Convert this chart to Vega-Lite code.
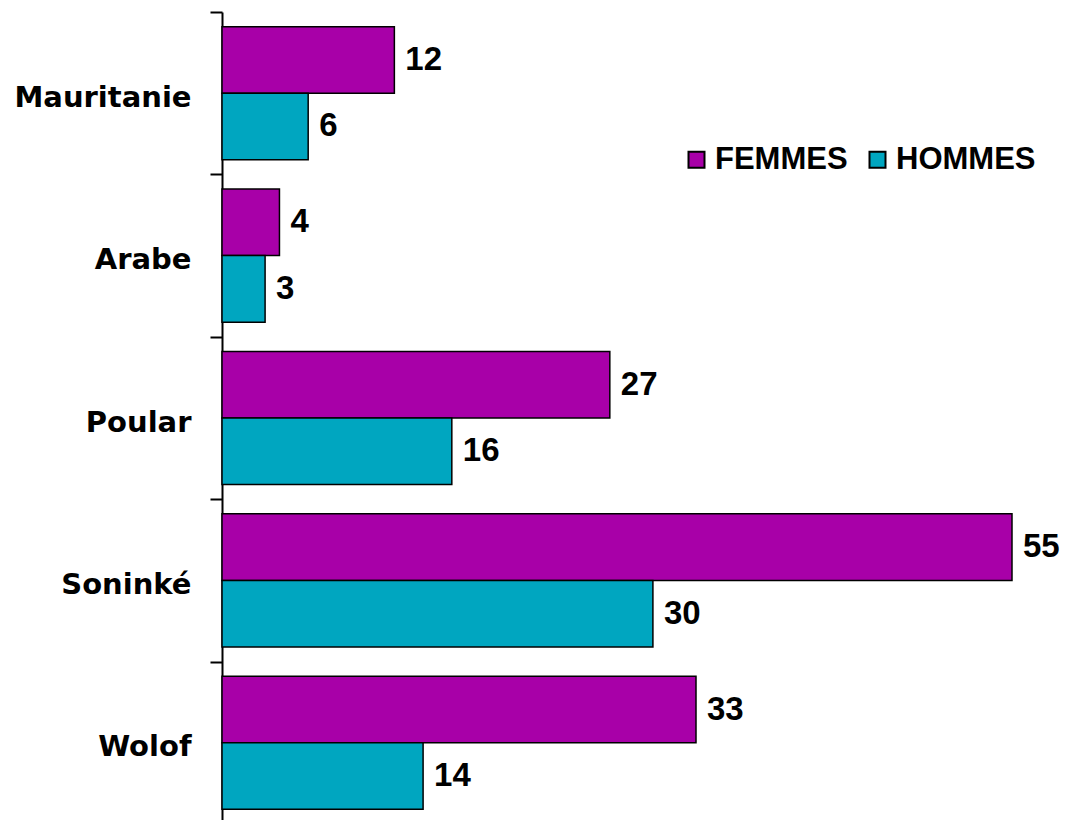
{
  "$schema": "https://vega.github.io/schema/vega-lite/v6.json",
  "autosize": {"type": "none"},
  "padding": {"left": 222, "top": 12, "right": 61, "bottom": 0},
  "width": 790,
  "height": 812,
  "background": "white",
  "config": {"view": {"stroke": null}},
  "data": {
    "values": [
      {"groupe": "Mauritanie", "sexe": "FEMMES", "valeur": 12},
      {"groupe": "Mauritanie", "sexe": "HOMMES", "valeur": 6},
      {"groupe": "Arabe", "sexe": "FEMMES", "valeur": 4},
      {"groupe": "Arabe", "sexe": "HOMMES", "valeur": 3},
      {"groupe": "Poular", "sexe": "FEMMES", "valeur": 27},
      {"groupe": "Poular", "sexe": "HOMMES", "valeur": 16},
      {"groupe": "Soninké", "sexe": "FEMMES", "valeur": 55},
      {"groupe": "Soninké", "sexe": "HOMMES", "valeur": 30},
      {"groupe": "Wolof", "sexe": "FEMMES", "valeur": 33},
      {"groupe": "Wolof", "sexe": "HOMMES", "valeur": 14}
    ]
  },
  "encoding": {
    "y": {
      "field": "groupe",
      "type": "nominal",
      "sort": ["Mauritanie", "Arabe", "Poular", "Soninké", "Wolof"],
      "scale": {"paddingInner": 0, "paddingOuter": 0},
      "axis": {
        "title": null,
        "domainColor": "black",
        "domainWidth": 2,
        "tickColor": "black",
        "tickWidth": 2,
        "tickSize": 12,
        "tickBand": "extent",
        "labelFont": "DejaVu Sans",
        "labelFontWeight": "bold",
        "labelFontSize": 29,
        "labelColor": "black",
        "labelPadding": 19,
        "labelOffset": 4
      }
    },
    "yOffset": {
      "field": "sexe",
      "type": "nominal",
      "sort": ["FEMMES", "HOMMES"],
      "scale": {"paddingInner": 0, "paddingOuter": 0.22}
    },
    "x": {
      "field": "valeur",
      "type": "quantitative",
      "scale": {"domain": [0, 55], "nice": false},
      "axis": null
    }
  },
  "layer": [
    {
      "mark": {"type": "bar", "stroke": "black", "strokeWidth": 1.5},
      "encoding": {
        "color": {
          "field": "sexe",
          "type": "nominal",
          "scale": {"domain": ["FEMMES", "HOMMES"], "range": ["#A800A8", "#00A6C0"]},
          "legend": {
            "title": null,
            "orient": "none",
            "legendX": 459,
            "legendY": 132,
            "direction": "horizontal",
            "symbolType": "square",
            "symbolSize": 256,
            "symbolStrokeColor": "black",
            "symbolStrokeWidth": 2,
            "labelFont": "Liberation Sans",
            "labelFontWeight": "bold",
            "labelFontSize": 31,
            "labelColor": "black",
            "labelOffset": 3,
            "columnPadding": 14
          }
        }
      }
    },
    {
      "mark": {
        "type": "text",
        "align": "left",
        "baseline": "middle",
        "dx": 11,
        "font": "Liberation Sans",
        "fontWeight": "bold",
        "fontSize": 33,
        "color": "black"
      },
      "encoding": {"text": {"field": "valeur", "type": "quantitative"}}
    }
  ]
}
